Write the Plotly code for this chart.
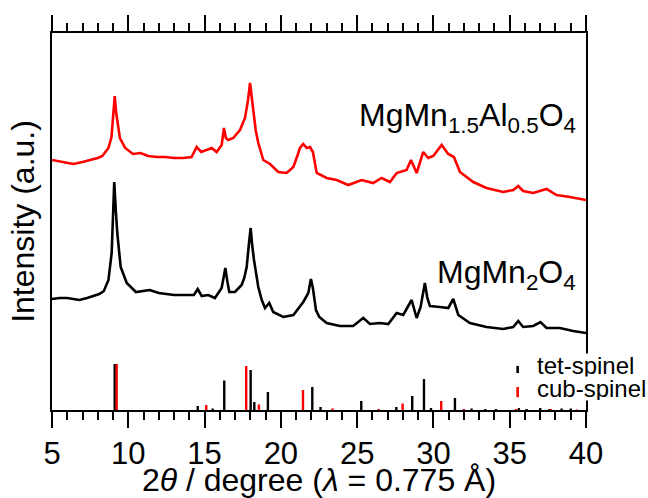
import plotly.graph_objects as go

# ---- data ----
red_x = [5.0, 5.7, 6.4, 7.0, 7.5, 8.0, 8.3, 8.7, 8.9, 9.0, 9.11, 9.2, 9.3, 9.45, 9.8, 10.3, 10.8, 11.3,
         11.9, 12.4, 13.0, 13.6, 14.15, 14.48, 14.78, 15.1, 15.47, 15.79, 16.12, 16.27, 16.4, 16.55, 16.88,
         17.1, 17.32, 17.65, 17.85, 17.98, 18.1, 18.19, 18.35, 18.52, 18.85, 19.29, 19.83, 20.38, 20.82,
         21.1, 21.25, 21.47, 21.7, 21.91, 22.1, 22.35, 23.0, 23.66, 24.42, 25.3, 26.05, 26.6, 27.15, 27.59,
         28.24, 28.53, 28.9, 29.33, 29.66, 29.99, 30.54, 30.97, 31.34, 31.74, 32.61, 33.48, 34.57, 35.23,
         35.56, 35.88, 36.54, 37.41, 38.07, 38.94, 40.0]
red_y = [250, 248, 246, 248, 250, 252, 254, 262, 273, 290, 314, 298, 285, 272, 262, 256, 257, 254,
         253, 253, 252, 252, 253, 263, 258, 260, 262, 258, 265, 282, 272, 270, 272,
         276, 280, 292, 310, 327, 312, 298, 280, 267, 250, 246, 238, 237, 243,
         255, 262, 266, 262, 263, 258, 237, 232, 230, 225, 230, 227, 232, 228, 237,
         240, 250, 237, 258, 252, 254, 265, 256, 253, 238, 228, 222, 218, 220,
         224, 219, 217, 221, 215, 213, 210]

black_x = [5.0, 5.5, 6.0, 6.8, 7.3, 7.7, 8.1, 8.4, 8.7, 8.91, 9.0, 9.08, 9.18, 9.28, 9.5, 9.9, 10.5, 11.0,
           11.4, 12.0, 12.5, 13.0, 13.6, 14.3, 14.55, 14.81, 15.24, 15.68, 16.12, 16.25, 16.36, 16.5, 16.62,
           16.99, 17.43, 17.6, 17.76, 17.9, 18.02, 18.12, 18.24, 18.52, 18.75, 18.96, 19.24, 19.5, 20.16,
           20.82, 21.2, 21.47, 21.8, 21.97, 22.1, 22.3, 22.52, 23.0, 23.87, 24.74, 25.4, 25.84, 26.49,
           27.04, 27.59, 28.02, 28.57, 28.9, 29.16, 29.44, 29.6, 29.77, 30.42, 30.97, 31.3, 31.63, 32.39,
           33.48, 34.57, 35.23, 35.56, 35.88, 36.54, 37.02, 37.41, 38.29, 39.16, 40.0]
black_y = [111, 112, 112, 110, 112, 114, 116, 119, 130, 157, 190, 228, 200, 177, 143, 127, 118, 119,
           120, 117, 116, 115, 115, 115, 121, 114, 115, 112, 122, 135, 142, 128, 118,
           118, 125, 132, 143, 165, 182, 165, 150, 123, 110, 102, 107, 98, 93,
           95, 103, 108, 117, 131, 122, 100, 93, 87, 84, 84, 92, 86, 87,
           86, 97, 95, 110, 92, 103, 127, 112, 104, 103, 102, 111, 95, 87,
           83, 81, 83, 89, 83, 84, 88, 82, 82, 79, 77]

tet_pos = [9.11, 14.55, 15.53, 16.29, 18.02, 18.26, 19.15, 22.06, 22.6, 25.27, 27.57, 28.61, 29.38,
           29.84, 31.41, 32.5, 33.4, 34.1, 35.6, 36.1, 37.0, 37.6, 38.4, 39.0]
tet_int = [46, 4, 1.5, 29.5, 40, 8, 18, 23, 3, 9, 3, 14, 31, 2, 12, 1.5, 1, 1, 2, 1, 2, 1, 1.5, 1.5]

cub_pos = [9.24, 15.11, 17.73, 18.56, 21.45, 23.39, 26.4, 27.98, 30.51, 32.0, 35.4, 37.7, 39.4]
cub_int = [46, 5, 44, 5.5, 20, 1.5, 1, 6.5, 9, 1, 1, 1, 0.5]

legend_names = ["tet-spinel", "cub-spinel"]
x_ticks = [5, 10, 15, 20, 25, 30, 35, 40]
y_range = [0, 377]

FONT = "Liberation Sans, Arial, Helvetica, sans-serif"
RED = "#ff0000"


def sticks(pos, inten):
    xs, ys = [], []
    for p, h in zip(pos, inten):
        xs += [p, p, None]
        ys += [0, h, None]
    return xs, ys


fig = go.Figure()

fig.add_trace(go.Scatter(x=red_x, y=red_y, mode="lines", line=dict(color=RED, width=2.6),
                         showlegend=False, hoverinfo="skip"))
fig.add_trace(go.Scatter(x=black_x, y=black_y, mode="lines", line=dict(color="black", width=2.6),
                         showlegend=False, hoverinfo="skip"))

tx, ty = sticks(tet_pos, tet_int)
cx, cy = sticks(cub_pos, cub_int)
fig.add_trace(go.Scatter(x=tx, y=ty, mode="lines", line=dict(color="black", width=2.4),
                         name=legend_names[0], showlegend=False, hoverinfo="skip"))
fig.add_trace(go.Scatter(x=cx, y=cy, mode="lines", line=dict(color=RED, width=2.4),
                         name=legend_names[1], showlegend=False, hoverinfo="skip"))

# sample labels
fig.add_annotation(x=39.45, y=293, xref="x", yref="y", xanchor="right", yanchor="middle",
                   text="MgMn<sub>1.5</sub>Al<sub>0.5</sub>O<sub>4</sub>", showarrow=False,
                   font=dict(family=FONT, size=32, color="black"))
fig.add_annotation(x=39.5, y=136, xref="x", yref="y", xanchor="right", yanchor="middle",
                   text="MgMn<sub>2</sub>O<sub>4</sub>", showarrow=False,
                   font=dict(family=FONT, size=32, color="black"))

# hand-made legend (tight line spacing as in the reference)
leg_rows = [(0.119, "black", 0.098, 0.117), (0.058, RED, 0.034, 0.061)]
for name, (yc, col, y0, y1) in zip(legend_names, leg_rows):
    fig.add_annotation(x=0.906, y=yc, xref="paper", yref="paper", xanchor="left", yanchor="middle",
                       text=name, showarrow=False, bgcolor="white", borderpad=0, height=23,
                       font=dict(family=FONT, size=24, color="black"))
    fig.add_shape(type="line", xref="paper", yref="paper", x0=0.872, x1=0.872, y0=y0, y1=y1,
                  line=dict(color=col, width=2.6))

fig.update_layout(
    width=648, height=498,
    margin=dict(l=52, r=62, t=33, b=88, autoexpand=False),
    paper_bgcolor="white", plot_bgcolor="white",
    font=dict(family=FONT, size=30, color="black"),
    showlegend=False,
    xaxis=dict(range=[5, 40], tickmode="array", tickvals=x_ticks, ticktext=[str(v) for v in x_ticks],
               ticks="outside", ticklen=16, tickwidth=2, tickcolor="black", ticklabelstandoff=-1,
               minor=dict(dtick=1, ticks="outside", ticklen=8, tickwidth=2, tickcolor="black"),
               showline=True, linewidth=2, linecolor="black", mirror="allticks",
               showgrid=False, zeroline=False, automargin=False,
               tickfont=dict(family=FONT, size=31, color="black"),
               title=dict(text="2<i>θ</i> / degree (<i>λ</i> = 0.775 Å)",
                          font=dict(family=FONT, size=32, color="black"))),
    yaxis=dict(range=y_range, showticklabels=False, ticks="", showline=True, linewidth=2,
               linecolor="black", mirror=True, showgrid=False, zeroline=False, automargin=False,
               title=dict(text="Intensity (a.u.)", font=dict(family=FONT, size=32, color="black"),
                          standoff=6)),
)

fig.write_html("out.html", config={"displayModeBar": False},
               post_script="document.body.style.margin='0px';")
